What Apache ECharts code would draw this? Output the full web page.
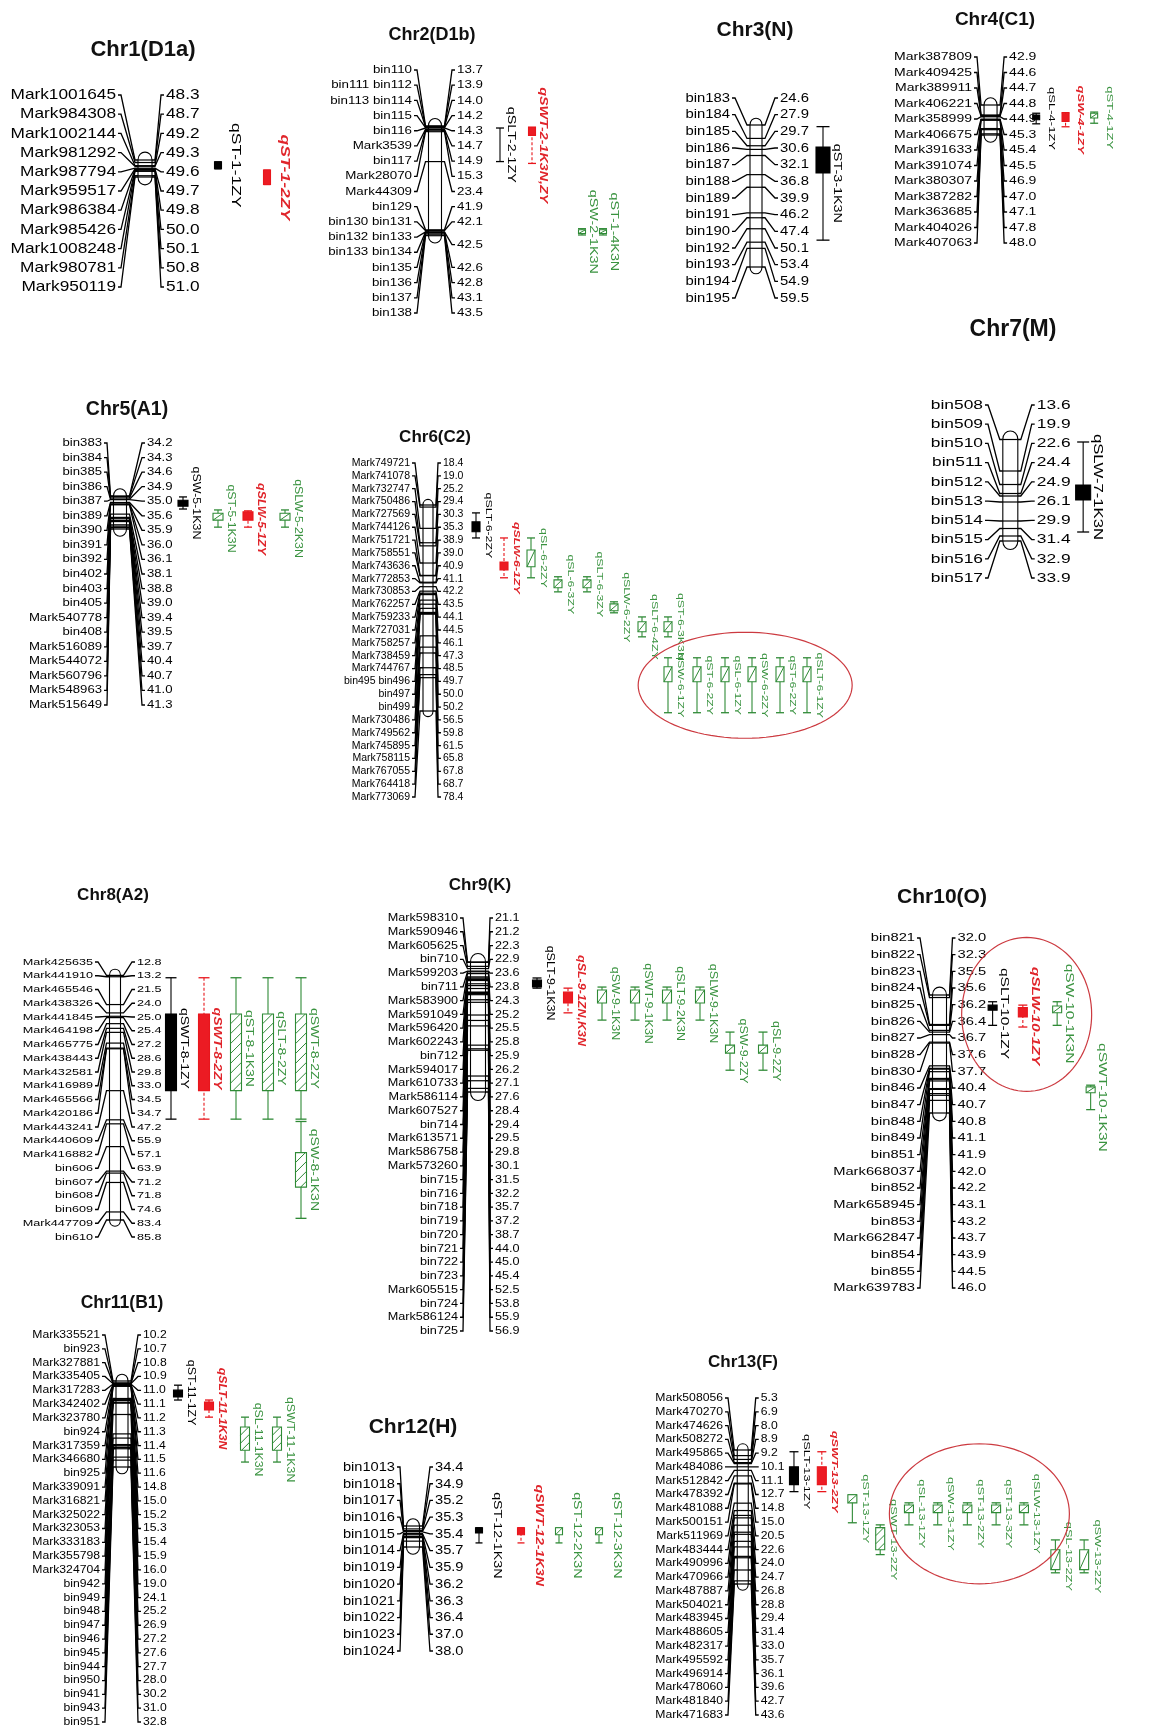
<!DOCTYPE html>
<html>
<head>
<meta charset="utf-8">
<title>Linkage map with QTL</title>
<script src="https://cdn.jsdelivr.net/npm/echarts@6/dist/echarts.min.js"></script>
<style>
  html, body { margin: 0; padding: 0; background: #fff; }
  #map { width: 1156px; height: 1727px; }
</style>
</head>
<body>
<div id="map"></div>
<script>
// ---------- Linkage groups: marker names and positions (cM) ----------
const chromTitles = ['Chr1(D1a)', 'Chr2(D1b)', 'Chr3(N)', 'Chr4(C1)', 'Chr5(A1)', 'Chr6(C2)', 'Chr7(M)',
  'Chr8(A2)', 'Chr9(K)', 'Chr10(O)', 'Chr11(B1)', 'Chr12(H)', 'Chr13(F)'];

const chr1Markers = ['Mark1001645', 'Mark984308', 'Mark1002144', 'Mark981292', 'Mark987794', 'Mark959517',
  'Mark986384', 'Mark985426', 'Mark1008248', 'Mark980781', 'Mark950119'];
const chr1Pos = [48.3, 48.7, 49.2, 49.3, 49.6, 49.7, 49.8, 50.0, 50.1, 50.8, 51.0];

const chr2Markers = ['bin110', 'bin111 bin112', 'bin113 bin114', 'bin115', 'bin116', 'Mark3539', 'bin117',
  'Mark28070', 'Mark44309', 'bin129', 'bin130 bin131', 'bin132 bin133', 'bin133 bin134', 'bin135', 'bin136',
  'bin137', 'bin138'];
const chr2Pos = [13.7, 13.9, 14.0, 14.2, 14.3, 14.7, 14.9, 15.3, 23.4, 41.9, 42.1, 42.5, 42.5, 42.6, 42.8, 43.1, 43.5];

const chr3Markers = ['bin183', 'bin184', 'bin185', 'bin186', 'bin187', 'bin188', 'bin189', 'bin191', 'bin190',
  'bin192', 'bin193', 'bin194', 'bin195'];
const chr3Pos = [24.6, 27.9, 29.7, 30.6, 32.1, 36.8, 39.9, 46.2, 47.4, 50.1, 53.4, 54.9, 59.5];

const chr4Markers = ['Mark387809', 'Mark409425', 'Mark389911', 'Mark406221', 'Mark358999', 'Mark406675',
  'Mark391633', 'Mark391074', 'Mark380307', 'Mark387282', 'Mark363685', 'Mark404026', 'Mark407063'];
const chr4Pos = [42.9, 44.6, 44.7, 44.8, 44.9, 45.3, 45.4, 45.5, 46.9, 47.0, 47.1, 47.8, 48.0];

const chr5Markers = ['bin383', 'bin384', 'bin385', 'bin386', 'bin387', 'bin389', 'bin390', 'bin391', 'bin392',
  'bin402', 'bin403', 'bin405', 'Mark540778', 'bin408', 'Mark516089', 'Mark544072', 'Mark560796', 'Mark548963',
  'Mark515649'];
const chr5Pos = [34.2, 34.3, 34.6, 34.9, 35.0, 35.6, 35.9, 36.0, 36.1, 38.1, 38.8, 39.0, 39.4, 39.5, 39.7, 40.4,
  40.7, 41.0, 41.3];

const chr6Markers = ['Mark749721', 'Mark741078', 'Mark732747', 'Mark750486', 'Mark727569', 'Mark744126',
  'Mark751721', 'Mark758551', 'Mark743636', 'Mark772853', 'Mark730853', 'Mark762257', 'Mark759233', 'Mark727031',
  'Mark758257', 'Mark738459', 'Mark744767', 'bin495 bin496', 'bin497', 'bin499', 'Mark730486', 'Mark749562',
  'Mark745895', 'Mark758115', 'Mark767055', 'Mark764418', 'Mark773069'];
const chr6Pos = [18.4, 19.0, 25.2, 29.4, 30.3, 35.3, 38.9, 39.0, 40.9, 41.1, 42.2, 43.5, 44.1, 44.5, 46.1, 47.3,
  48.5, 49.7, 50.0, 50.2, 56.5, 59.8, 61.5, 65.8, 67.8, 68.7, 78.4];

const chr7Markers = ['bin508', 'bin509', 'bin510', 'bin511', 'bin512', 'bin513', 'bin514', 'bin515', 'bin516', 'bin517'];
const chr7Pos = [13.6, 19.9, 22.6, 24.4, 24.9, 26.1, 29.9, 31.4, 32.9, 33.9];

const chr8Markers = ['Mark425635', 'Mark441910', 'Mark465546', 'Mark438326', 'Mark441845', 'Mark464198',
  'Mark465775', 'Mark438443', 'Mark432581', 'Mark416989', 'Mark465566', 'Mark420186', 'Mark443241', 'Mark440609',
  'Mark416882', 'bin606', 'bin607', 'bin608', 'bin609', 'Mark447709', 'bin610'];
const chr8Pos = [12.8, 13.2, 21.5, 24.0, 25.0, 25.4, 27.2, 28.6, 29.8, 33.0, 34.5, 34.7, 47.2, 55.9, 57.1, 63.9,
  71.2, 71.8, 74.6, 83.4, 85.8];

const chr9Markers = ['Mark598310', 'Mark590946', 'Mark605625', 'bin710', 'Mark599203', 'bin711', 'Mark583900',
  'Mark591049', 'Mark596420', 'Mark602243', 'bin712', 'Mark594017', 'Mark610733', 'Mark586114', 'Mark607527',
  'bin714', 'Mark613571', 'Mark586758', 'Mark573260', 'bin715', 'bin716', 'bin718', 'bin719', 'bin720', 'bin721',
  'bin722', 'bin723', 'Mark605515', 'bin724', 'Mark586124', 'bin725'];
const chr9Pos = [21.1, 21.2, 22.3, 22.9, 23.6, 23.8, 24.3, 25.2, 25.5, 25.8, 25.9, 26.2, 27.1, 27.6, 28.4, 29.4,
  29.5, 29.8, 30.1, 31.5, 32.2, 35.7, 37.2, 38.7, 44.0, 45.0, 45.4, 52.5, 53.8, 55.9, 56.9];

const chr10Markers = ['bin821', 'bin822', 'bin823', 'bin824', 'bin825', 'bin826', 'bin827', 'bin828', 'bin830',
  'bin846', 'bin847', 'bin848', 'bin849', 'bin851', 'Mark668037', 'bin852', 'Mark658945', 'bin853', 'Mark662847',
  'bin854', 'bin855', 'Mark639783'];
const chr10Pos = [32.0, 32.3, 35.5, 35.6, 36.2, 36.4, 36.7, 37.6, 37.7, 40.4, 40.7, 40.8, 41.1, 41.9, 42.0, 42.2,
  43.1, 43.2, 43.7, 43.9, 44.5, 46.0];

const chr11Markers = ['Mark335521', 'bin923', 'Mark327881', 'Mark335405', 'Mark317283', 'Mark342402',
  'Mark323780', 'bin924', 'Mark317359', 'Mark346680', 'bin925', 'Mark339091', 'Mark316821', 'Mark325022',
  'Mark323053', 'Mark333183', 'Mark355798', 'Mark324704', 'bin942', 'bin949', 'bin948', 'bin947', 'bin946',
  'bin945', 'bin944', 'bin950', 'bin941', 'bin943', 'bin951'];
const chr11Pos = [10.2, 10.7, 10.8, 10.9, 11.0, 11.1, 11.2, 11.3, 11.4, 11.5, 11.6, 14.8, 15.0, 15.2, 15.3, 15.4,
  15.9, 16.0, 19.0, 24.1, 25.2, 26.9, 27.2, 27.6, 27.7, 28.0, 30.2, 31.0, 32.8];

const chr12Markers = ['bin1013', 'bin1018', 'bin1017', 'bin1016', 'bin1015', 'bin1014', 'bin1019', 'bin1020',
  'bin1021', 'bin1022', 'bin1023', 'bin1024'];
const chr12Pos = [34.4, 34.9, 35.2, 35.3, 35.4, 35.7, 35.9, 36.2, 36.3, 36.4, 37.0, 38.0];

const chr13Markers = ['Mark508056', 'Mark470270', 'Mark474626', 'Mark508272', 'Mark495865', 'Mark484086',
  'Mark512842', 'Mark478392', 'Mark481088', 'Mark500151', 'Mark511969', 'Mark483444', 'Mark490996', 'Mark470966',
  'Mark487887', 'Mark504021', 'Mark483945', 'Mark488605', 'Mark482317', 'Mark495592', 'Mark496914', 'Mark478060',
  'Mark481840', 'Mark471683'];
const chr13Pos = [5.3, 6.9, 8.0, 8.9, 9.2, 10.1, 11.1, 12.7, 14.8, 15.0, 20.5, 22.6, 24.0, 24.7, 26.8, 28.8, 29.4,
  31.4, 33.0, 35.7, 36.1, 39.6, 42.7, 43.6];

// ---------- QTL: name, environment group, interval [lower, peak-start, peak-end, upper] (cM) ----------
const chr1Qtl = ['qST-1-1ZY', 'qST-1-2ZY'];
const chr1QtlKind = ['black', 'red'];
const chr1QtlSpan = [[48.6, 48.6, 49.7, 49.7], [49.9, 49.9, 52.2, 52.2]];

const chr2Qtl = ['qSLT-2-1ZY', 'qSWT-2-1K3N,ZY', 'qSW-2-1K3N', 'qST-1-4K3N'];
const chr2QtlKind = ['black', 'red', 'green', 'green'];
const chr2QtlSpan = [[14.3, 14.3, 14.3, 23.4], [14.1, 14.1, 16.3, 23.9], [41.6, 41.9, 42.9, 43.3], [41.6, 41.9, 42.9, 43.3]];

const chr3Qtl = ['qST-3-1K3N'];
const chr3QtlKind = ['black'];
const chr3QtlSpan = [[25.0, 30.0, 36.4, 52.9]];

const chr4Qtl = ['qSL-4-1ZY', 'qSW-4-1ZY', 'qST-4-1ZY'];
const chr4QtlKind = ['black', 'red', 'green'];
const chr4QtlSpan = [[44.3, 44.6, 45.4, 46.1], [44.2, 44.3, 45.7, 46.6], [44.1, 44.3, 45.1, 46.0]];

const chr5Qtl = ['qSW-5-1K3N', 'qST-5-1K3N', 'qSLW-5-1ZY', 'qSLW-5-2K3N'];
const chr5QtlKind = ['black', 'green', 'red', 'green'];
const chr5QtlSpan = [[34.4, 35.1, 36.4, 37.0], [37.2, 37.9, 39.4, 40.9], [37.4, 37.6, 39.4, 40.9], [37.2, 37.9, 39.4, 40.9]];

const chr6Qtl = ['qSLT-6-2ZY', 'qSLW-6-1ZY', 'qSL-6-2ZY', 'qSL-6-3ZY', 'qSLT-6-3ZY', 'qSLW-6-2ZY', 'qSLT-6-4ZY',
  'qST-6-3K3N', 'qSW-6-1ZY', 'qST-6-2ZY', 'qSL-6-1ZY', 'qSW-6-2ZY', 'qST-6-2ZY', 'qSLT-6-1ZY'];
const chr6QtlKind = ['black', 'red', 'green', 'green', 'green', 'green', 'green', 'green', 'green', 'green', 'green',
  'green', 'green', 'green'];
const chr6QtlSpan = [[20.7, 23.3, 26.2, 28.0], [28.0, 35.0, 37.3, 39.6], [28.0, 31.5, 36.4, 39.6],
  [39.3, 40.2, 42.5, 43.7], [39.3, 40.2, 42.5, 43.7], [46.6, 47.2, 49.2, 49.8], [51.0, 52.4, 55.3, 56.8],
  [51.0, 52.4, 55.3, 56.8], [62.9, 65.5, 69.9, 78.9], [62.9, 65.5, 69.9, 78.9], [62.9, 65.5, 69.9, 78.9],
  [62.9, 65.5, 69.9, 78.9], [62.9, 65.5, 69.9, 78.9], [62.9, 65.5, 69.9, 78.9]];
const chr6Circled = [8, 9, 10, 11, 12, 13];

const chr7Qtl = ['qSLW-7-1K3N'];
const chr7QtlKind = ['black'];
const chr7QtlSpan = [[14.1, 22.7, 25.7, 32.1]];

const chr8Qtl = ['qSWT-8-1ZY', 'qSWT-8-2ZY', 'qST-8-1K3N', 'qSLT-8-2ZY', 'qSWT-8-2ZY', 'qSW-8-1K3N'];
const chr8QtlKind = ['black', 'red', 'green', 'green', 'green', 'green'];
const chr8QtlSpan = [[13.5, 24.3, 47.2, 55.7], [13.5, 24.3, 47.2, 55.7], [13.5, 24.3, 47.2, 55.7],
  [13.5, 24.3, 47.2, 55.7], [13.5, 24.3, 47.2, 55.7], [56.4, 65.7, 76.0, 85.3]];

const chr9Qtl = ['qSLT-9-1K3N', 'qSL-9-1ZN,K3N', 'qSW-9-1K3N', 'qSWT-9-1K3N', 'qSLT-9-2K3N', 'qSLW-9-1K3N',
  'qSW-9-2ZY', 'qSL-9-2ZY'];
const chr9QtlKind = ['black', 'red', 'green', 'green', 'green', 'green', 'green', 'green'];
const chr9QtlSpan = [[25.5, 26.1, 28.0, 28.3], [28.3, 29.4, 32.4, 35.1], [28.0, 28.8, 32.4, 37.1],
  [28.0, 28.8, 32.4, 37.1], [28.0, 28.8, 32.4, 37.1], [28.0, 28.8, 32.4, 37.1], [40.4, 44.0, 46.2, 50.9],
  [40.4, 44.0, 46.2, 50.9]];

const chr10Qtl = ['qSLT-10-1ZY', 'qSLW-10-1ZY', 'qSW-10-1K3N', 'qSWT-10-1K3N'];
const chr10QtlKind = ['black', 'red', 'green', 'green'];
const chr10QtlSpan = [[32.8, 33.2, 33.8, 35.6], [33.2, 33.5, 34.6, 35.8], [32.8, 33.3, 34.1, 35.6], [42.7, 42.9, 43.6, 45.6]];
const chr10Circled = [0, 1, 2];

const chr11Qtl = ['qST-11-1ZY', 'qSLT-11-1K3N', 'qSL-11-1K3N', 'qSWT-11-1K3N'];
const chr11QtlKind = ['black', 'red', 'green', 'green'];
const chr11QtlSpan = [[11.3, 12.6, 14.4, 15.2], [15.2, 15.7, 17.8, 19.7], [19.7, 22.3, 28.4, 31.5], [19.7, 22.3, 28.4, 31.5]];

const chr12Qtl = ['qST-12-1K3N', 'qSWT-12-1K3N', 'qST-12-2K3N', 'qST-12-3K3N'];
const chr12QtlKind = ['black', 'red', 'green', 'green'];
const chr12QtlSpan = [[34.7, 34.7, 35.6, 37.3], [34.7, 34.7, 35.9, 37.3], [34.7, 34.7, 35.9, 37.3], [34.7, 34.7, 35.9, 37.3]];

const chr13Qtl = ['qSLT-13-1ZY', 'qSWT-13-2ZY', 'qST-13-1ZY', 'qSWT-13-2ZY', 'qSL-13-1ZY', 'qSW-13-1ZY',
  'qST-13-2ZY', 'qST-13-3ZY', 'qSLW-13-1ZY', 'qSL-13-2ZY', 'qSW-13-2ZY'];
const chr13QtlKind = ['black', 'red', 'green', 'green', 'green', 'green', 'green', 'green', 'green', 'green', 'green'];
const chr13QtlSpan = [[5.8, 10.1, 15.2, 17.2], [5.8, 10.1, 15.2, 17.2], [18.1, 18.1, 20.4, 26.1],
  [26.7, 27.5, 33.8, 35.2], [20.4, 21.0, 23.2, 26.7], [20.4, 21.0, 23.2, 26.7], [20.4, 21.0, 23.2, 26.7],
  [20.4, 21.0, 23.2, 26.7], [20.4, 21.0, 23.2, 26.7], [31.0, 33.8, 39.5, 40.4], [31.0, 33.8, 39.5, 40.4]];
const chr13Circled = [4, 5, 6, 7, 8];

const groups = [
  [chr1Markers, chr1Pos, chr1Qtl, chr1QtlKind, chr1QtlSpan, []],
  [chr2Markers, chr2Pos, chr2Qtl, chr2QtlKind, chr2QtlSpan, []],
  [chr3Markers, chr3Pos, chr3Qtl, chr3QtlKind, chr3QtlSpan, []],
  [chr4Markers, chr4Pos, chr4Qtl, chr4QtlKind, chr4QtlSpan, []],
  [chr5Markers, chr5Pos, chr5Qtl, chr5QtlKind, chr5QtlSpan, []],
  [chr6Markers, chr6Pos, chr6Qtl, chr6QtlKind, chr6QtlSpan, chr6Circled],
  [chr7Markers, chr7Pos, chr7Qtl, chr7QtlKind, chr7QtlSpan, []],
  [chr8Markers, chr8Pos, chr8Qtl, chr8QtlKind, chr8QtlSpan, []],
  [chr9Markers, chr9Pos, chr9Qtl, chr9QtlKind, chr9QtlSpan, []],
  [chr10Markers, chr10Pos, chr10Qtl, chr10QtlKind, chr10QtlSpan, chr10Circled],
  [chr11Markers, chr11Pos, chr11Qtl, chr11QtlKind, chr11QtlSpan, []],
  [chr12Markers, chr12Pos, chr12Qtl, chr12QtlKind, chr12QtlSpan, []],
  [chr13Markers, chr13Pos, chr13Qtl, chr13QtlKind, chr13QtlSpan, chr13Circled]
].map((g, i) => ({ title: chromTitles[i], markers: g[0], pos: g[1], qtl: g[2], kind: g[3], span: g[4], circled: g[5] }));

// ---------- Panel layout (page pixels): label rows, chromosome ends, QTL columns, fonts ----------
const panels = [
  { rows: [95, 287], L: 116, cx: 145, R: 166, w: 14, ends: [160, 177], title: [143, 50, 22], mfs: 15, msx: 1.15, qfs: 12.5, qsx: 1.4, qoff: 17, bw: 7, cw: 7, qx: [218, 267] },
  { rows: [70, 313], L: 412, cx: 435, R: 457, w: 13, ends: [125.8, 235.7], title: [432, 35, 18], mfs: 11.5, msx: 1.16, qfs: 11, qsx: 1.3, qoff: 11, bw: 7, cw: 8, qx: [500, 532, 582, 603] },
  { rows: [98, 298], L: 730, cx: 756, R: 780, w: 12, ends: [125, 267], title: [755, 30, 21], mfs: 13.5, msx: 1.1, qfs: 11.5, qsx: 1.25, qoff: 14, bw: 14, cw: 13, qx: [823] },
  { rows: [57, 243], L: 972, cx: 996, R: 1020, w: 13, ends: [105, 135], title: [995, 20, 19], mfs: 11.5, msx: 1.22, qfs: 9.5, qsx: 1.37, qoff: 15, bw: 7, cw: 8, qx: [1055, 1093, 1130] },
  { rows: [443, 705], L: 102, cx: 120, R: 147, w: 13, ends: [496, 529], title: [127, 410, 19.5], mfs: 10.7, msx: 1.23, qfs: 10.7, qsx: 1.16, qoff: 13, bw: 10, cw: 8, qx: [183, 218, 248, 285] },
  { rows: [463, 797], L: 410, cx: 428, R: 443, w: 10, ends: [505, 711], title: [435, 437, 17], mfs: 10.5, msx: 1.0, qfs: 9.5, qsx: 1.3, qoff: 12.5, bw: 8, cw: 8, qx: [476, 504, 531, 558, 587, 614, 642, 668, 668, 697, 725, 752, 780, 807], ring: { dx: 7, rx: 107, ry: 53 } },
  { rows: [405, 578], L: 983, cx: 1013, R: 1042, w: 15, ends: [439.5, 541], title: [1013, 330, 23], mfs: 13.7, msx: 1.27, qfs: 13.7, qsx: 1.22, qoff: 15, bw: 15, cw: 12, qx: [1093] },
  { rows: [962, 1237], L: 93, cx: 115, R: 137, w: 11, ends: [975.4, 1220], title: [113, 895, 17], mfs: 9.5, msx: 1.33, qfs: 10, qsx: 1.4, qoff: 12.5, bw: 11, cw: 11, qx: [171, 204, 236, 268, 301, 301] },
  { rows: [918, 1331], L: 458, cx: 478, R: 495, w: 15, ends: [962, 1092], title: [480, 885, 17], mfs: 11.5, msx: 1.1, qfs: 10, qsx: 1.25, qoff: 12.5, bw: 9, cw: 9, qx: [537, 568, 602, 635, 667, 700, 730, 763] },
  { rows: [938, 1288], L: 915, cx: 945, R: 967, w: 14, ends: [995, 1113], title: [942, 897, 21], mfs: 11.5, msx: 1.28, qfs: 11.5, qsx: 1.35, qoff: 12, bw: 9, cw: 9, qx: [1010, 1047, 1089, 1130], ring: { dx: 3, rx: 65, ry: 77 } },
  { rows: [1335, 1722], L: 100, cx: 122, R: 143, w: 12, ends: [1381, 1467], title: [122, 1303, 17.5], mfs: 10.7, msx: 1.14, qfs: 11, qsx: 1.12, qoff: 13, bw: 9, cw: 8, qx: [178, 209, 245, 277] },
  { rows: [1467, 1651], L: 395, cx: 413, R: 435, w: 13, ends: [1526, 1547], title: [413, 1427, 21], mfs: 13.7, msx: 1.07, qfs: 11.5, qsx: 1.24, qoff: 18, bw: 7, cw: 7, qx: [479, 521, 559, 599] },
  { rows: [1398, 1715], L: 723, cx: 745, R: 765, w: 11, ends: [1450, 1584], title: [743, 1362, 17], mfs: 10.7, msx: 1.14, qfs: 9.5, qsx: 1.35, qoff: 13, bw: 9, cw: 9, qx: [802, 833, 867, 898, 930, 962, 995, 1027, 1058, 1093, 1125], ring: { dx: 14, rx: 90, ry: 70 } }
];

const FONT = '"Liberation Sans", Arial, Helvetica, sans-serif';
const INK = '#000';
const KIND_STYLE = {
  black: { stroke: '#000', fill: '#000', text: '#000', dash: null, weight: 'normal', italic: 'normal', hatch: false },
  red: { stroke: '#e8161c', fill: '#ec1b23', text: '#e0252b', dash: [3, 2], weight: 'bold', italic: 'italic', hatch: false },
  green: { stroke: '#2f8a36', fill: '#fff', text: '#3a9340', dash: null, weight: 'normal', italic: 'normal', hatch: true }
};

function textStyle(text, size, color, align, vAlign, weight, italic) {
  return {
    text: text, fill: color, fontSize: size, fontFamily: FONT,
    fontWeight: weight || 'normal', fontStyle: italic || 'normal',
    align: align, verticalAlign: vAlign, textAlign: align, textVerticalAlign: vAlign
  };
}

// diagonal hatching "/" inside a peak box
function hatchLines(x0, y0, x1, y1, color) {
  const w = x1 - x0, h = y1 - y0, out = [];
  const st = { stroke: color, lineWidth: 1 };
  if (h <= 2.3 * w) {
    out.push({ type: 'line', shape: { x1: x0, y1: y1, x2: x1, y2: y0 }, style: st });
    return out;
  }
  const step = w * 0.9;
  for (let c = x0 + y0 + step; c < x1 + y1 - 1; c += step) {
    const xa = Math.max(x0, c - y1), xb = Math.min(x1, c - y0);
    if (xb - xa > 0.5) out.push({ type: 'line', shape: { x1: xa, y1: c - xa, x2: xb, y2: c - xb }, style: st });
  }
  return out;
}

const option = { animation: false, backgroundColor: '#fff', grid: [], xAxis: [], yAxis: [], series: [], graphic: [] };

groups.forEach((g, gi) => {
  const p = panels[gi];
  const n = g.pos.length;
  const lo = Math.min.apply(null, g.pos), hi = Math.max.apply(null, g.pos);
  const k = (p.ends[1] - p.ends[0]) / (hi - lo);
  const yMin = lo - (p.ends[0] - p.rows[0]) / k;
  const yMax = hi + (p.rows[1] - p.ends[1]) / k;
  const gl = p.L;
  const gw = Math.max.apply(null, p.qx) + 80 - gl;

  option.grid.push({ left: gl, top: p.rows[0], width: gw, height: p.rows[1] - p.rows[0], show: false });
  option.xAxis.push({ gridIndex: gi, type: 'value', min: 0, max: gw, show: false });
  option.yAxis.push({ gridIndex: gi, type: 'value', inverse: true, min: yMin, max: yMax, show: false });

  // chromosome body
  option.series.push({
    type: 'custom', xAxisIndex: gi, yAxisIndex: gi, z: 1, silent: true,
    data: [[lo, hi]],
    renderItem: function (params, api) {
      const top = api.coord([p.cx - gl, api.value(0)]);
      const bot = api.coord([p.cx - gl, api.value(1)]);
      const x0 = top[0] - p.w / 2, x1 = top[0] + p.w / 2;
      const tip = p.w * 0.75;
      const d = 'M' + x0 + ' ' + top[1] +
        ' C' + x0 + ' ' + (top[1] - tip) + ' ' + x1 + ' ' + (top[1] - tip) + ' ' + x1 + ' ' + top[1] +
        ' L' + x1 + ' ' + bot[1] +
        ' C' + x1 + ' ' + (bot[1] + tip) + ' ' + x0 + ' ' + (bot[1] + tip) + ' ' + x0 + ' ' + bot[1] + ' Z';
      return { type: 'path', shape: { pathData: d }, style: { fill: '#fff', stroke: '#000', lineWidth: 1.1 } };
    }
  });

  // marker rows: right-hand labels of equal adjacent positions are merged
  const rightRow = [], drawRight = [];
  for (let i = 0; i < n;) {
    let j = i;
    while (j + 1 < n && g.pos[j + 1] === g.pos[i]) j++;
    for (let t = i; t <= j; t++) { rightRow[t] = (i + j) / 2; drawRight[t] = t === i ? 1 : 0; }
    i = j + 1;
  }
  option.series.push({
    type: 'custom', xAxisIndex: gi, yAxisIndex: gi, z: 2, silent: true,
    data: g.pos.map((v, i) => [i, v, rightRow[i], drawRight[i]]),
    renderItem: function (params, api) {
      const i = api.value(0), v = api.value(1);
      const rowAt = idx => api.coord([0, yMin + idx / (n - 1) * (yMax - yMin)])[1];
      const yr = rowAt(i), yc = api.coord([0, v])[1];
      const xc = api.coord([p.cx - gl, v])[0];
      const x0 = xc - p.w / 2, x1 = xc + p.w / 2;
      const xl = api.coord([p.L - gl, v])[0], xr = api.coord([p.R - gl, v])[0];
      const s = 3;
      const ln = { stroke: '#000', lineWidth: 1.3, fill: 'none' };
      const kids = [
        { type: 'line', shape: { x1: x0, y1: yc, x2: x1, y2: yc }, style: { stroke: '#000', lineWidth: 1.2 } },
        { type: 'polyline', shape: { points: [[xl + 2, yr], [xl + 2 + s, yr], [x0 - s, yc], [x0, yc]] }, style: ln },
        { type: 'text', x: xl, y: yr, scaleX: p.msx, style: textStyle(g.markers[params.dataIndex], p.mfs, INK, 'right', 'middle') }
      ];
      if (api.value(3)) {
        const y2 = rowAt(api.value(2));
        kids.push({ type: 'polyline', shape: { points: [[x1, yc], [x1 + s, yc], [xr - 2 - s, y2], [xr - 2, y2]] }, style: ln });
        kids.push({ type: 'text', x: xr, y: y2, scaleX: p.msx, style: textStyle(v.toFixed(1), p.mfs, INK, 'left', 'middle') });
      }
      return { type: 'group', children: kids };
    }
  });

  // QTL intervals
  option.series.push({
    type: 'custom', xAxisIndex: gi, yAxisIndex: gi, z: 3, silent: true,
    data: g.span.map(s => s.slice()),
    renderItem: function (params, api) {
      const q = params.dataIndex;
      const st = KIND_STYLE[g.kind[q]];
      const x = api.coord([p.qx[q] - gl, api.value(0)])[0];
      const Y = t => api.coord([0, t])[1];
      const yLo = Y(api.value(0)), yB0 = Y(api.value(1)), yB1 = Y(api.value(2)), yHi = Y(api.value(3));
      const ls = { stroke: st.stroke, lineWidth: 1.1, lineDash: st.dash };
      const kids = [];
      if (yHi - yLo > 0.5) {
        kids.push({ type: 'line', shape: { x1: x, y1: yLo, x2: x, y2: yHi }, style: ls });
        kids.push({ type: 'line', shape: { x1: x - p.cw / 2, y1: yLo, x2: x + p.cw / 2, y2: yLo }, style: { stroke: st.stroke, lineWidth: 1.3 } });
        kids.push({ type: 'line', shape: { x1: x - p.cw / 2, y1: yHi, x2: x + p.cw / 2, y2: yHi }, style: { stroke: st.stroke, lineWidth: 1.3 } });
      }
      if (yB1 - yB0 > 0.5) {
        const bx0 = x - p.bw / 2, bx1 = x + p.bw / 2;
        kids.push({ type: 'rect', shape: { x: bx0, y: yB0, width: p.bw, height: yB1 - yB0 }, style: { fill: st.fill, stroke: st.stroke, lineWidth: 1.1 } });
        if (st.hatch) hatchLines(bx0, yB0, bx1, yB1, st.stroke).forEach(h => kids.push(h));
      }
      kids.push({
        type: 'text', x: x + p.qoff, y: (yLo + yHi) / 2, rotation: -Math.PI / 2, scaleX: p.qsx,
        style: textStyle(g.qtl[q], p.qfs, st.text, 'center', 'middle', st.weight, st.italic)
      });
      return { type: 'group', children: kids };
    }
  });

  // ring around a cluster of co-located QTL
  if (g.circled.length && p.ring) {
    const los = g.circled.map(i => g.span[i][0]), his = g.circled.map(i => g.span[i][3]);
    const mid = (Math.min.apply(null, los) + Math.max.apply(null, his)) / 2;
    const cxRing = g.circled.reduce((a, i) => a + p.qx[i], 0) / g.circled.length + p.ring.dx;
    option.series.push({
      type: 'custom', xAxisIndex: gi, yAxisIndex: gi, z: 4, silent: true,
      data: [[cxRing - gl, mid]],
      renderItem: function (params, api) {
        const c = api.coord([api.value(0), api.value(1)]);
        const pts = [];
        for (let a = 0; a < 96; a++) {
          const t = a / 96 * Math.PI * 2;
          pts.push([c[0] + p.ring.rx * Math.cos(t), c[1] + p.ring.ry * Math.sin(t)]);
        }
        return { type: 'polygon', shape: { points: pts }, style: { fill: 'none', stroke: '#cc3a40', lineWidth: 1.2 } };
      }
    });
  }

  option.graphic.push({
    type: 'text', x: p.title[0], y: p.title[1], silent: true,
    style: textStyle(g.title, p.title[2], '#111', 'center', 'middle', 'bold')
  });
});

const chart = echarts.init(document.getElementById('map'), null, { renderer: 'canvas', width: 1156, height: 1727 });
chart.setOption(option);
</script>
</body>
</html>
